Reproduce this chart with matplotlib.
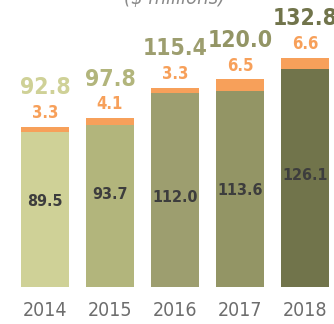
import matplotlib
matplotlib.use('Agg')
import matplotlib.pyplot as plt
import numpy as np

years = ['2014', '2015', '2016', '2017', '2018']
base = [89.5, 93.7, 112.0, 113.6, 126.1]
extra = [3.3, 4.1, 3.3, 6.5, 6.6]
totals = [92.8, 97.8, 115.4, 120.0, 132.8]

base_colors = ['#cfd197', '#b2b57c', '#9d9e6f', '#939565', '#71744b']
extra_color = '#f7a05a'
# where the inner value sits, as a share of the lower bar height
inner_pos = [0.55, 0.57, 0.46, 0.49, 0.51]

fnt = ['DejaVu Sans']
cond = dict(family=fnt, stretch='condensed', ha='center', va='center')

fig = plt.figure(figsize=(3.34, 3.24), dpi=100)
ax = fig.add_axes([0, 0, 1, 1])
x = np.arange(len(years))
w = 0.74
ax.bar(x, base, w, color=base_colors)
ax.bar(x, extra, w, bottom=base, color=extra_color)

for i in range(len(years)):
    top = base[i] + extra[i]
    ax.text(x[i], base[i] * inner_pos[i], '{:.1f}'.format(base[i]),
            fontsize=11.5, fontweight='bold', color='#3d3d3d', **cond)
    ax.text(x[i], top + 8, '{:.1f}'.format(extra[i]),
            fontsize=12, fontweight='bold', color=extra_color, **cond)
    ax.text(x[i], top + 22.5, '{:.1f}'.format(totals[i]),
            fontsize=16.5, fontweight='bold', color=base_colors[i], **cond)
    ax.text(x[i], -13.5, years[i], fontsize=14, color='#6d6d6d', **cond)

ax.text(2.0, 167, '($ millions)', fontsize=14.5, style='italic', color='#8a8a8a', **cond)

ax.set_xlim(-0.692, 4.446)
ax.set_ylim(-21.4, 166.0)
ax.axis('off')
fig.savefig('out.png', dpi=100)
